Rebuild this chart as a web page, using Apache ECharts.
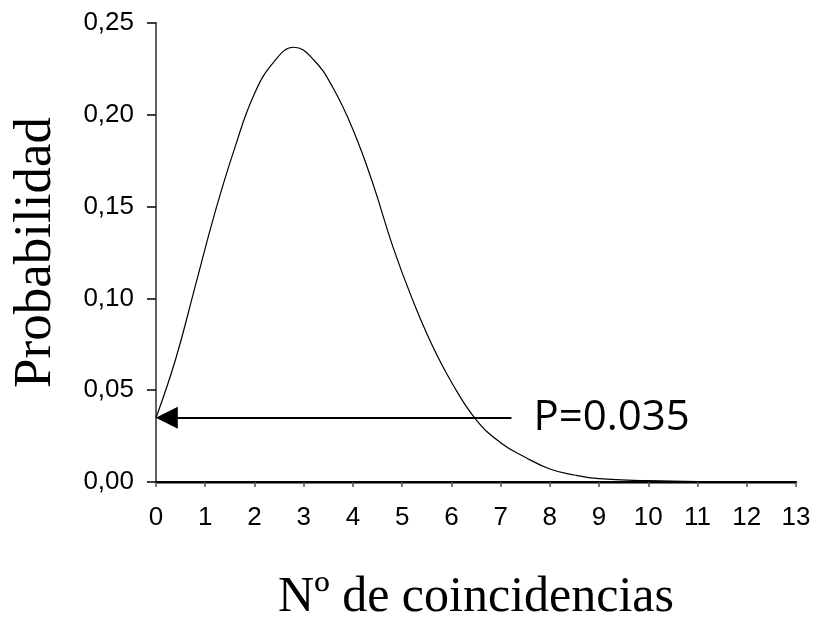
<!DOCTYPE html>
<html>
<head>
    <meta charset="UTF-8">
    <title>Probabilidad - Nº de coincidencias</title>
    <script src="https://cdn.jsdelivr.net/npm/echarts@6/dist/echarts.min.js"></script>
    <style>
        html, body { margin: 0; padding: 0; background: #fff; }
    </style>
</head>
<body>
<div id="main" style="width: 815px;height:626px;"></div>

<script type="text/javascript">
    // valores
    var xs = [0, 0.4, 0.8, 1.2, 1.6, 2.0, 2.4, 2.8, 3.2, 3.6, 4.0, 4.4, 4.8, 5.2, 5.6,
        6.0, 6.5, 7.0, 7.5, 8.0, 8.5, 9.0, 10, 11, 12, 13];
    var probs = [0.035, 0.067, 0.107, 0.147, 0.182, 0.2115, 0.229, 0.2368, 0.230, 0.2145, 0.192, 0.163, 0.129, 0.100, 0.075,
        0.0545, 0.034, 0.0214, 0.0135, 0.0071, 0.0038, 0.0018, 0.0007, 0.0002, 0.0001, 0.00005];

    var xTicks = [0, 13, 1];          // min, max, intervalo
    var yTicks = [0, 0.25, 0.05];

    // flecha P=0.035
    var arrowText = 'P=0.035';
    var arrowFrom = [7.22, 0.035];
    var arrowTo = [0.22, 0.035];

    var curve = [];
    for (var i = 0; i < xs.length; i++) {
        curve.push([xs[i], probs[i]]);
    }

    var myChart = echarts.init(document.getElementById('main'));

    var option = {
        backgroundColor: '#fff',
        animation: false,
        grid: {
            left: 156,
            right: 19,
            top: 23,
            bottom: 144,
            containLabel: false,
            outerBoundsMode: 'none'
        },
        xAxis: [{
            type: 'value',
            min: xTicks[0],
            max: xTicks[1],
            interval: xTicks[2],
            name: 'Nº de coincidencias',
            nameLocation: 'middle',
            nameGap: 91,
            nameTextStyle: {fontFamily: 'Liberation Serif', fontSize: 50, color: '#000'},
            axisLine: {show: true, onZero: false, lineStyle: {color: '#505050', width: 2.5}},
            axisTick: {show: true, inside: false, length: 5, lineStyle: {color: '#505050', width: 1.5}},
            axisLabel: {margin: 23, fontFamily: 'Liberation Sans', fontSize: 26, color: '#000'},
            splitLine: {show: false}
        }, {
            type: 'value',
            position: 'top',
            min: xTicks[0],
            max: xTicks[1],
            axisLine: {show: true, lineStyle: {color: '#000', width: 2}},
            axisTick: {show: false},
            axisLabel: {show: false},
            splitLine: {show: false}
        }],
        yAxis: [{
            type: 'value',
            min: yTicks[0],
            max: yTicks[1],
            interval: yTicks[2],
            name: 'Probabilidad',
            nameLocation: 'middle',
            nameRotate: 90,
            nameGap: 93,
            nameTextStyle: {fontFamily: 'Liberation Serif', fontSize: 53, color: '#000'},
            axisLine: {show: true, onZero: false, lineStyle: {color: '#000', width: 1.5}},
            axisTick: {show: true, inside: false, length: 9, lineStyle: {color: '#000', width: 1.5}},
            axisLabel: {
                margin: 22, fontFamily: 'Liberation Sans', fontSize: 26, color: '#000',
                formatter: function (v) { return v.toFixed(2).replace('.', ','); }
            },
            splitLine: {show: false}
        }, {
            type: 'value',
            position: 'right',
            min: yTicks[0],
            max: yTicks[1],
            axisLine: {show: true, lineStyle: {color: '#707070', width: 1.5}},
            axisTick: {show: false},
            axisLabel: {show: false},
            splitLine: {show: false}
        }],
        series: [
            {
                name: 'Probabilidad',
                type: 'line',
                data: curve,
                smooth: 0.45,
                showSymbol: false,
                symbol: 'none',
                lineStyle: {color: '#000', width: 1.2},
                markLine: {
                    silent: true,
                    animation: false,
                    data: [[
                        {coord: arrowFrom, symbol: 'none'},
                        {coord: arrowTo, symbol: 'triangle', symbolSize: [22, 22]}
                    ]],
                    lineStyle: {color: '#000', width: 2, type: 'solid'},
                    itemStyle: {color: '#000'},
                    label: {
                        show: true,
                        position: 'start',
                        distance: 22,
                        formatter: arrowText,
                        fontFamily: 'Open Sans',
                        fontSize: 42,
                        color: '#000',
                        padding: [0, 0, 12, 0]
                    }
                }
            }
        ]
    };

    myChart.setOption(option);
</script>
</body>
</html>
